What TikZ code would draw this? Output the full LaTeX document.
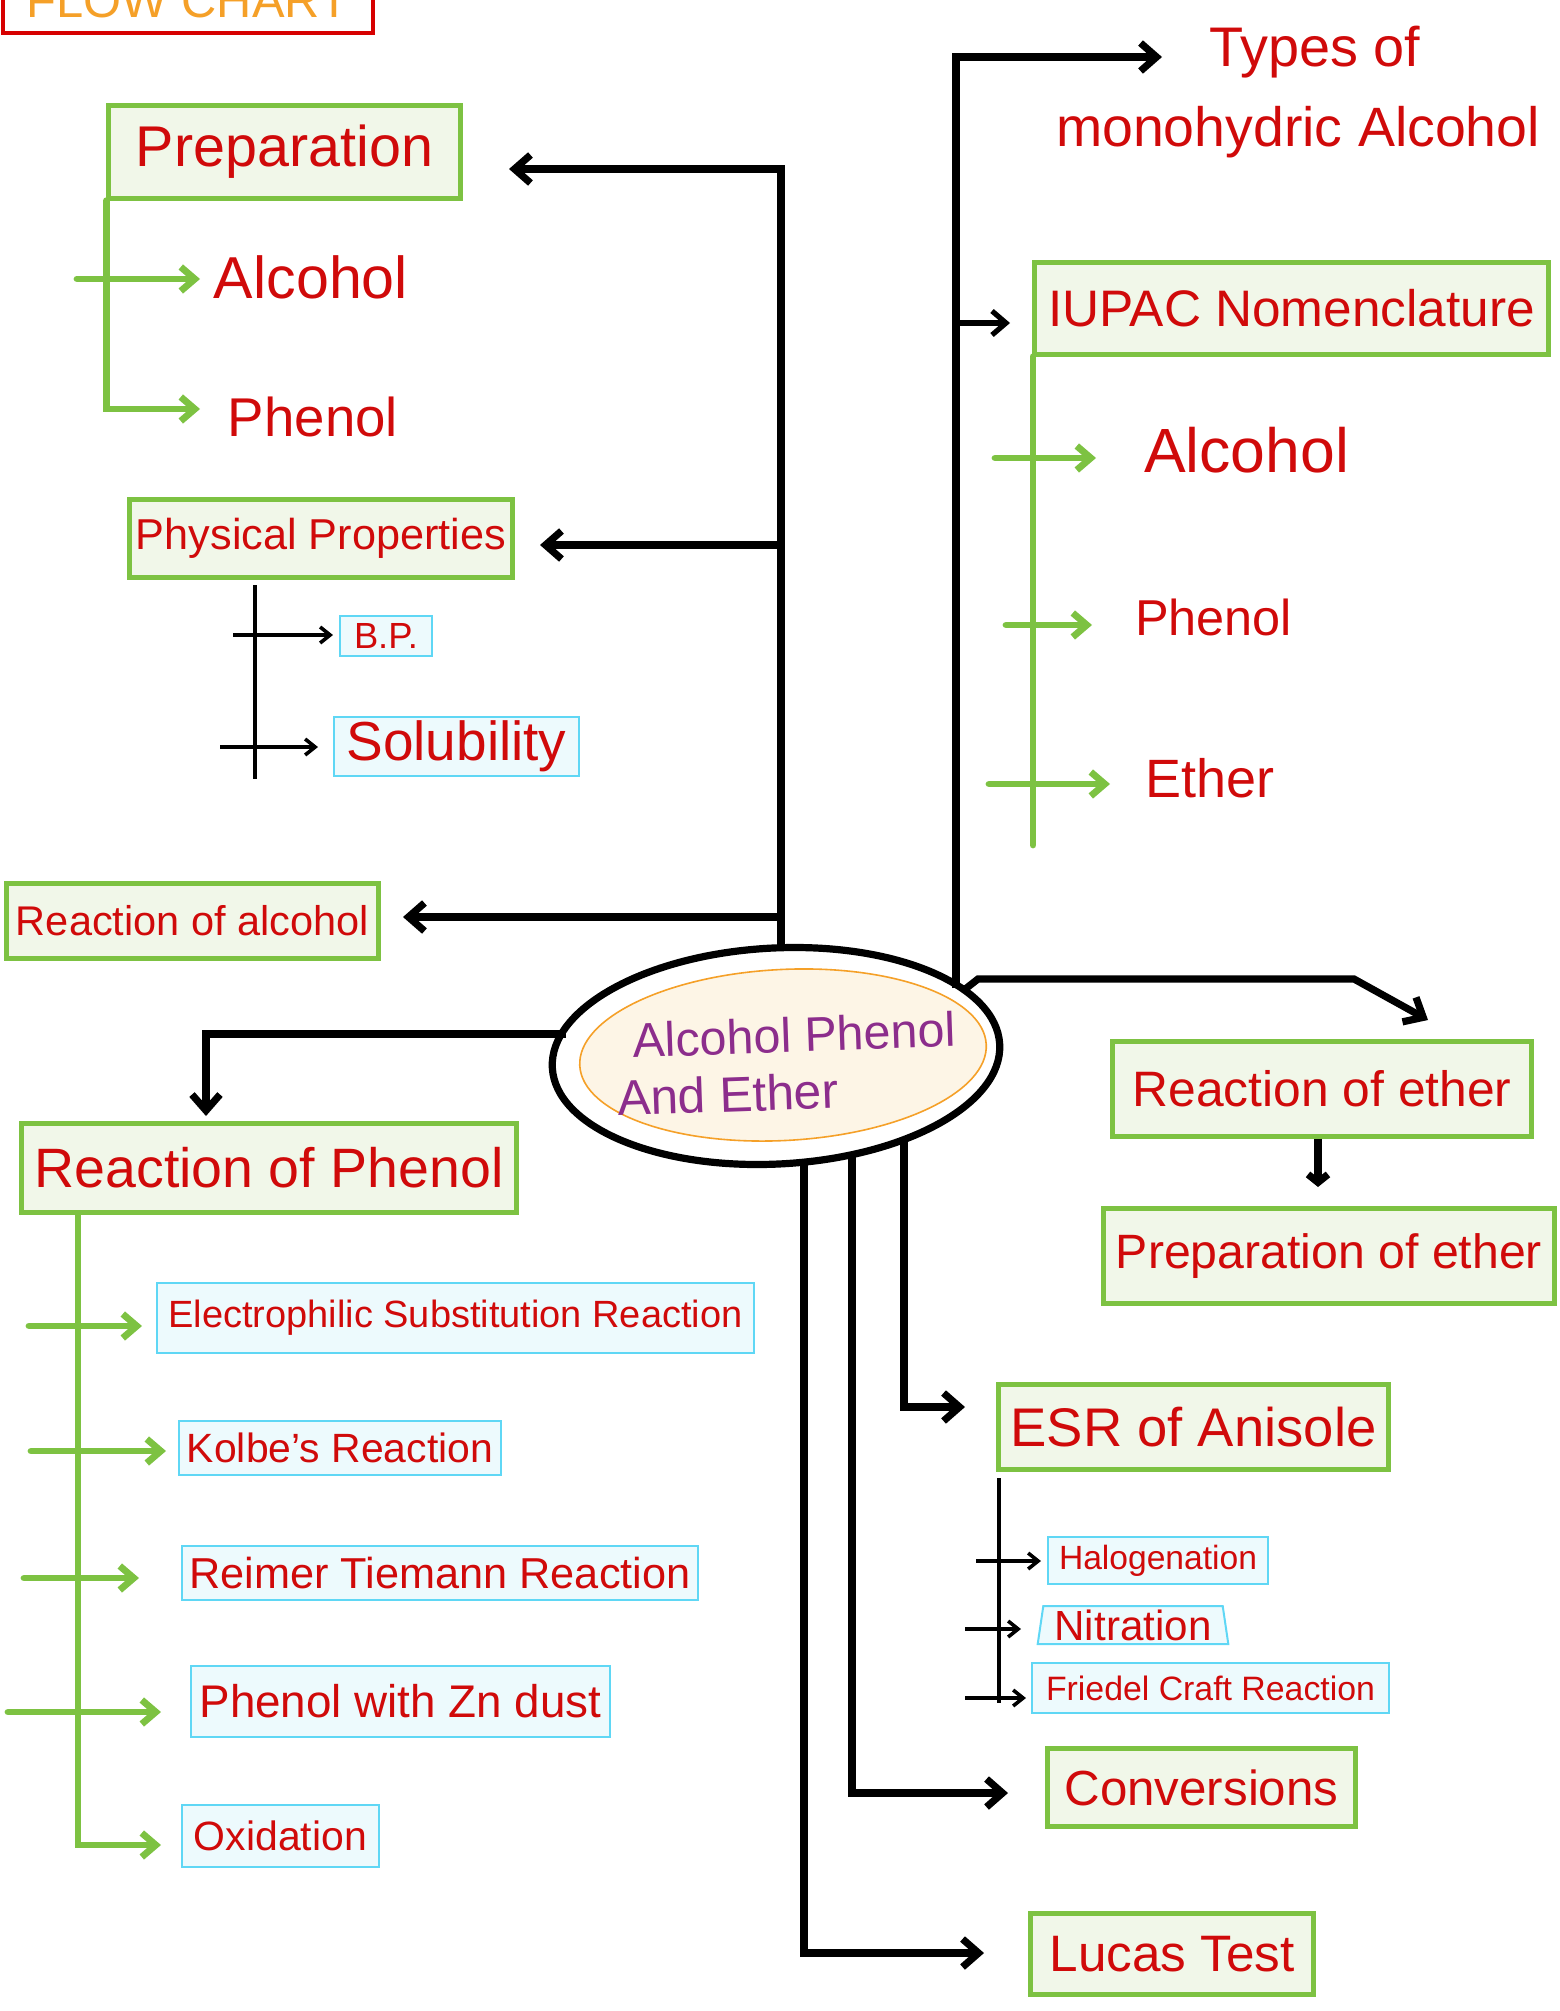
\documentclass[tikz,border=0pt]{standalone}
\usepackage{fontspec}
\setmainfont{Liberation Sans}
\usetikzlibrary{arrows.meta,shapes.geometric}
\definecolor{tred}{RGB}{208,10,10}
\definecolor{gbord}{RGB}{125,194,66}
\definecolor{gfill}{RGB}{241,247,233}
\definecolor{cbord}{RGB}{95,215,245}
\definecolor{cfill}{RGB}{237,250,253}
\definecolor{forange}{RGB}{245,160,40}
\definecolor{fred}{RGB}{215,0,0}
\definecolor{purp}{RGB}{140,45,140}
\definecolor{cream}{RGB}{253,245,230}
\newdimen\pxu \pxu=0.5pt
\newcommand{\tw}[2]{\resizebox{#1\pxu}{!}{#2}}
\tikzset{
  sz/.style 2 args={minimum width=#1*0.5pt, minimum height=#2*0.5pt},
  gbox/.style={draw=gbord, fill=gfill, line width=2.2pt, inner sep=0pt, text=tred},
  cbox/.style={draw=cbord, fill=cfill, line width=1pt, inner sep=0pt, text=tred},
  txt/.style={inner sep=0pt, text=tred},
  bkl/.style={draw=black, line width=3.6pt},
  bka/.style={bkl, -{Straight Barb[length=8pt,width=14pt]}},
  bkm/.style={draw=black, line width=2.6pt, -{Straight Barb[length=7pt,width=12pt]}},
  bks/.style={bkl, -{Straight Barb[length=4pt,width=10pt]}},
  tline/.style={draw=black, line width=1.8pt},
  tarrow/.style={tline, -{Straight Barb[length=5pt,width=8pt]}},
  gl/.style={draw=gbord, line width=3.4pt, line cap=round},
  ga/.style={gl, -{Straight Barb[length=7pt,width=12pt]}},
}
\begin{document}
\begin{tikzpicture}[x=0.5pt,y=-0.5pt]
\useasboundingbox (0,0) rectangle (1559,2011);
\clip (0,0) rectangle (1559,2011);

% title
\node[draw=fred, line width=2pt, text=forange, inner sep=0pt, sz={370}{64}] (flow) at (188,1) {\tw{322}{FLOW CHART}};

% left column
\node[gbox, sz={352}{93}] (prep) at (284.5,152) {\tw{297}{Preparation}};
\node[txt, anchor=base] (alc1) at (311,299) {\tw{194}{Alcohol}};
\node[txt, anchor=base] (ph1) at (313,436) {\tw{170}{Phenol}};
\node[gbox, sz={383}{78}] (phys) at (321,538.5) {\tw{370}{Physical Properties}};
\node[cbox, sz={92}{40}] (bp) at (386,636) {\tw{64}{B.P.}};
\node[cbox, sz={245}{59}] (sol) at (456.5,746.5) {\tw{220}{Solubility}};
\node[gbox, sz={372}{75}] (ralc) at (192.5,921) {\tw{353}{Reaction of alcohol}};

% right column top
\node[txt, anchor=base] (types) at (1315,67) {\tw{211}{Types of}};
\node[txt, anchor=base] (mono) at (1298,147) {\tw{484}{monohydric Alcohol}};
\node[gbox, sz={514}{92}] (iupac) at (1291.5,308.5) {\tw{487}{IUPAC Nomenclature}};
\node[txt, anchor=base] (alc2) at (1246.5,472) {\tw{205}{Alcohol}};
\node[txt, anchor=base] (ph2) at (1213.5,635) {\tw{157}{Phenol}};
\node[txt, anchor=base] (eth) at (1209.5,797) {\tw{129}{Ether}};

% centre
\node[ellipse, draw=black, line width=3.6pt, fill=white, inner sep=0pt, sz={448}{216}, rotate=3] (ell) at (776,1056) {};
\node[ellipse, draw=forange, line width=0.8pt, fill=cream, inner sep=0pt, sz={407}{171}, rotate=3] (ellin) at (783,1055) {};
\node[txt, text=purp, anchor=base, rotate=2] (ellt1) at (794.5,1052) {\tw{323}{Alcohol Phenol}};
\node[txt, text=purp, anchor=base, rotate=2] (ellt2) at (728.5,1112) {\tw{221}{And Ether}};

% ether boxes
\node[gbox, sz={419}{95}] (reth) at (1322,1089) {\tw{379}{Reaction of ether}};
\node[gbox, sz={451}{95}] (peth) at (1329,1256) {\tw{426}{Preparation of ether}};

% reaction of phenol
\node[gbox, sz={495}{89}] (rphen) at (269,1168) {\tw{469}{Reaction of Phenol}};
\node[cbox, sz={597}{70}] (esub) at (455.5,1318) {\tw{574}{Electrophilic Substitution Reaction}};
\node[cbox, sz={322}{54}] (kolbe) at (340,1448) {\tw{306}{Kolbe's Reaction}};
\node[cbox, sz={516}{54}] (reimer) at (440,1573) {\tw{501}{Reimer Tiemann Reaction}};
\node[cbox, sz={419}{71}] (zn) at (400.5,1701.5) {\tw{402}{Phenol with Zn dust}};
\node[cbox, sz={197}{62}] (oxi) at (280.5,1836) {\tw{173}{Oxidation}};

% bottom right
\node[gbox, sz={390}{85}] (esr) at (1193.5,1427) {\tw{366}{ESR of Anisole}};
\node[cbox, sz={220}{47}] (halo) at (1158,1560.5) {\tw{198}{Halogenation}};
\node[cbox, trapezium, trapezium left angle=81, trapezium right angle=81, trapezium stretches=true, sz={192}{38}] (nitr) at (1133,1625) {\tw{157}{Nitration}};
\node[cbox, sz={357}{50}] (fried) at (1210.5,1688) {\tw{329}{Friedel Craft Reaction}};
\node[gbox, sz={308}{78}] (conv) at (1201.5,1787.5) {\tw{274}{Conversions}};
\node[gbox, sz={283}{81}] (lucas) at (1172,1954) {\tw{245}{Lucas Test}};

% ---------- coordinates ----------
\coordinate (LT) at (781,169);
\coordinate (prepin) at (509,169);
\coordinate (physin) at (540,545);
\coordinate (ralcin) at (403,917);
\coordinate (RT) at (956,57);
\coordinate (RB) at (956,988);
\coordinate (typesin) at (1162,57);
\coordinate (iupin) at (1010,323);
\coordinate (trs) at (964,990);
\coordinate (tr1) at (978,979);
\coordinate (tr2) at (1354,979);
\coordinate (rethin) at (1428,1020);
\coordinate (pethin) at (1318,1187);
\coordinate (lcs) at (566,1034);
\coordinate (rphin) at (206,1116);
\coordinate (b1) at (904,1140);
\coordinate (b2) at (852,1152);
\coordinate (b3) at (804,1161);
\coordinate (esrin) at (965,1407);
\coordinate (convin) at (1008,1793);
\coordinate (lucin) at (984,1953);

% main trunks
\draw[bka] (ell.north -| LT) -- (LT) -- (prepin);
\draw[bka] (physin -| LT) -- (physin);
\draw[bka] (ralcin -| LT) -- (ralcin);
\draw[bka] (RB) -- (RT) -- (typesin);
\draw[bkm] (iupin -| RT) -- (iupin);
\draw[bka] (trs) -- (tr1) -- (tr2) -- (rethin);
\draw[bks] (pethin |- reth.south) -- (pethin);
\draw[bka] (lcs) -| (rphin);
\draw[bka] (b1) |- (esrin);
\draw[bka] (b2) |- (convin);
\draw[bka] (b3) |- (lucin);

% preparation tree
\coordinate (a1s) at (77,279);
\coordinate (a1in) at (200,279);
\coordinate (ph1in) at (200,409);
\draw[ga] (prep.south west) |- (ph1in);
\draw[ga] (a1s) -- (a1in);

% physical properties tree
\coordinate (pt) at (255,585);
\coordinate (pb) at (255,779);
\coordinate (bp0) at (233,635);
\coordinate (bpin) at (333,635);
\coordinate (so0) at (220,747);
\coordinate (soin) at (318,747);
\draw[tline] (pt) -- (pb);
\draw[tarrow] (bp0) -- (bpin);
\draw[tarrow] (so0) -- (soin);

% IUPAC tree
\coordinate (iub) at (1033,845);
\draw[gl] (iub |- iupac.south) -- (iub);
\coordinate (i1) at (995,458);   \coordinate (i1in) at (1096,458);
\coordinate (i2) at (1006,625);  \coordinate (i2in) at (1092,625);
\coordinate (i3) at (989,784);   \coordinate (i3in) at (1110,784);
\draw[ga] (i1) -- (i1in);
\draw[ga] (i2) -- (i2in);
\draw[ga] (i3) -- (i3in);

% reaction of phenol tree
\coordinate (rpt) at (78,1214);
\coordinate (oxin) at (161,1845);
\draw[ga] (rpt) |- (oxin);
\coordinate (r1) at (29,1326);  \coordinate (r1in) at (142,1326);
\coordinate (r2) at (31,1451);  \coordinate (r2in) at (166,1451);
\coordinate (r3) at (24,1578);  \coordinate (r3in) at (139,1578);
\coordinate (r4) at (8,1712);   \coordinate (r4in) at (161,1712);
\draw[ga] (r1) -- (r1in);
\draw[ga] (r2) -- (r2in);
\draw[ga] (r3) -- (r3in);
\draw[ga] (r4) -- (r4in);

% ESR tree
\coordinate (et) at (999,1478);
\coordinate (eb) at (999,1703);
\draw[tline] (et) -- (eb);
\coordinate (h0) at (976,1561);  \coordinate (hin) at (1041,1561);
\coordinate (n0) at (965,1629);  \coordinate (nin) at (1021,1629);
\coordinate (f0) at (965,1698);  \coordinate (fin) at (1026,1698);
\draw[tarrow] (h0) -- (hin);
\draw[tarrow] (n0) -- (nin);
\draw[tarrow] (f0) -- (fin);
\end{tikzpicture}
\end{document}
